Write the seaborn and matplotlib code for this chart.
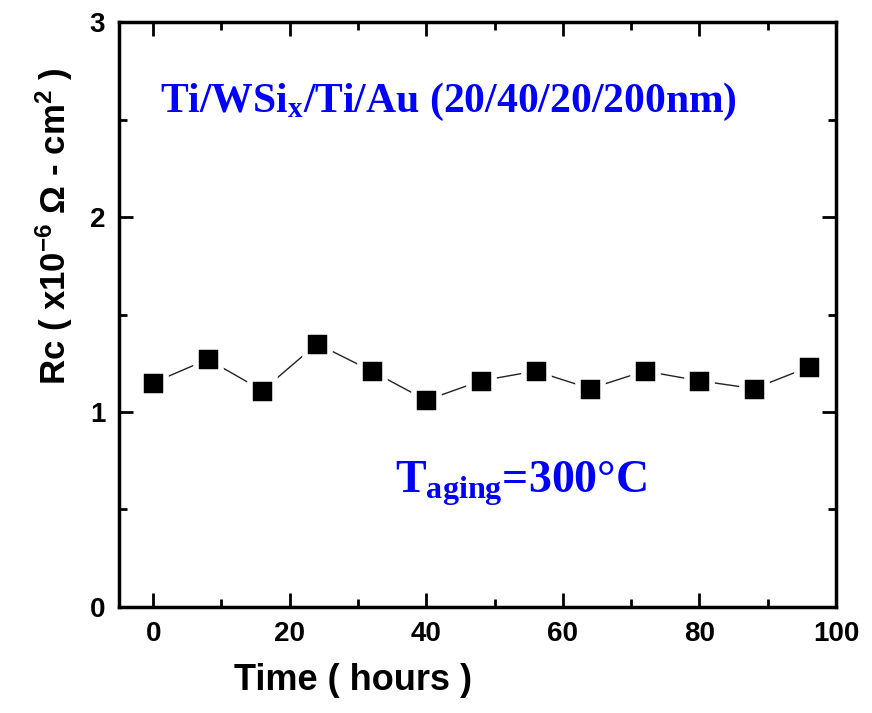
import matplotlib
matplotlib.use('Agg')
import matplotlib.pyplot as plt
import seaborn as sns
import pandas as pd
from matplotlib.ticker import MultipleLocator

time_h = [0, 8, 16, 24, 32, 40, 48, 56, 64, 72, 80, 88, 96]
rc = [1.15, 1.27, 1.11, 1.35, 1.21, 1.06, 1.16, 1.21, 1.12, 1.21, 1.16, 1.12, 1.23]
x_ticks = [0, 20, 40, 60, 80, 100]
y_ticks = [0, 1, 2, 3]

df = pd.DataFrame({'time': time_h, 'rc': rc})

sns.set_style('ticks')
plt.rcParams['font.family'] = ['Liberation Sans', 'DejaVu Sans']
plt.rcParams['mathtext.default'] = 'regular'
plt.rcParams['text.color'] = 'black'
plt.rcParams['axes.labelcolor'] = 'black'
plt.rcParams['xtick.color'] = 'black'
plt.rcParams['ytick.color'] = 'black'
plt.rcParams['axes.edgecolor'] = 'black'

fig = plt.figure(figsize=(8.72, 7.13), dpi=100)
ax = fig.add_axes([0.1365, 0.1487, 0.8222, 0.8204])

sns.lineplot(data=df, x='time', y='rc', ax=ax, color='#222222', lw=1.0,
             marker='s', markersize=18, markeredgecolor='white',
             markeredgewidth=4, markerfacecolor='black')

ax.set_xlim(-5, 100)
ax.set_ylim(0, 3)
ax.set_xticks(x_ticks)
ax.set_yticks(y_ticks)
ax.xaxis.set_minor_locator(MultipleLocator(10))
ax.yaxis.set_minor_locator(MultipleLocator(0.5))
ax.tick_params(which='major', direction='in', length=10, width=2,
               top=True, right=True, labelsize=20, pad=10)
ax.tick_params(which='minor', direction='in', length=6, width=2,
               top=True, right=True)
for lab in ax.get_xticklabels() + ax.get_yticklabels():
    lab.set_fontweight('bold')
for s in ax.spines.values():
    s.set_linewidth(2.5)
    s.set_visible(True)

ax.set_xlabel('Time ( hours )', fontsize=26, fontweight='bold')
ax.xaxis.set_label_coords(0.327, -0.095)
ax.set_ylabel('Rc ( x10$^{-6}$ Ω - cm$^{2}$ )', fontsize=25, fontweight='bold')
ax.yaxis.set_label_coords(-0.062, 0.65)

serif = ['Liberation Serif', 'DejaVu Serif']
ax.text(0.459, 0.846, 'Ti/WSi$_{x}$/Ti/Au (20/40/20/200nm)', transform=ax.transAxes,
        ha='center', va='baseline', fontsize=30, fontweight='bold', color='#0000ff', family=serif)
ax.text(0.561, 0.195, 'T$_{aging}$=300°C', transform=ax.transAxes,
        ha='center', va='baseline', fontsize=33, fontweight='bold', color='#0000ff', family=serif)

fig.savefig('out.png', dpi=100)
